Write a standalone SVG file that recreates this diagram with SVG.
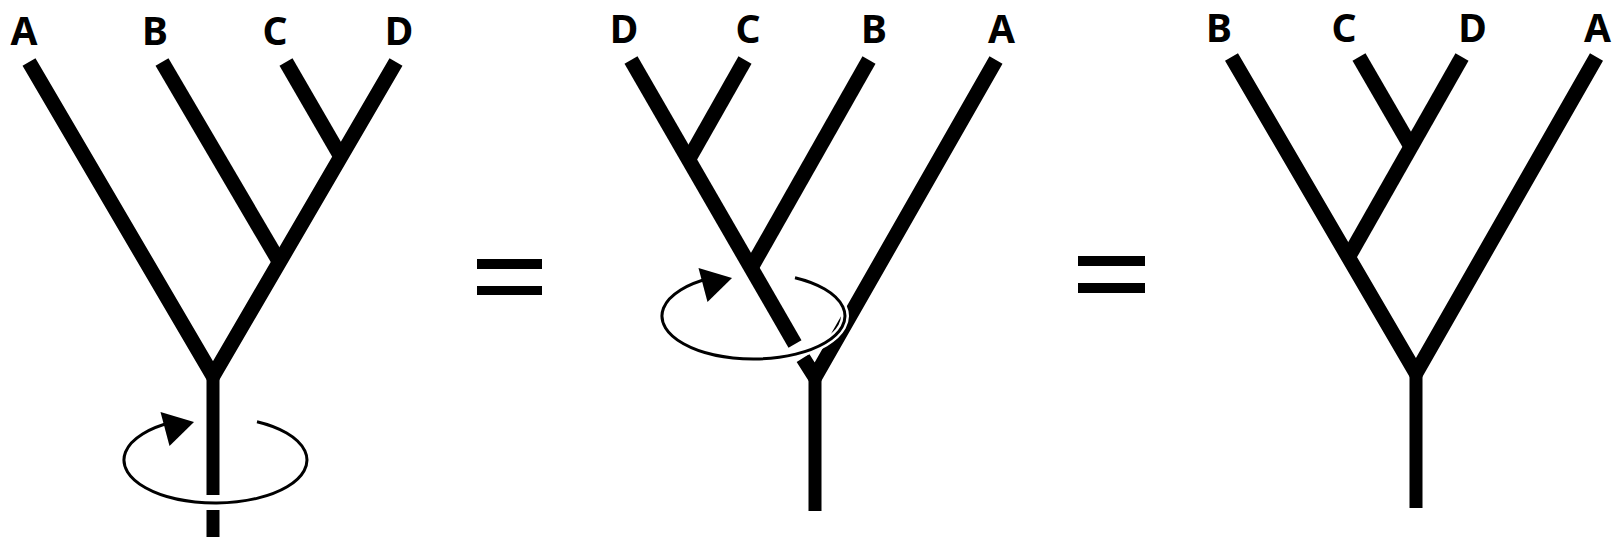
<svg xmlns="http://www.w3.org/2000/svg" xmlns:xlink="http://www.w3.org/1999/xlink" width="1619" height="540" viewBox="0 0 1619 540">
  <style>
    .br { fill: none; stroke: #000; stroke-width: 15; stroke-linecap: butt; stroke-linejoin: miter; stroke-miterlimit: 10; }
    .tk { fill: none; stroke: #000; stroke-width: 13; stroke-linecap: butt; }
    .lbl { font-family: "Noto Sans", "Liberation Sans", sans-serif; font-weight: 700; font-size: 39px; fill: #000; text-anchor: middle; }
    .eq { fill: #000; }
    .halo { fill: none; stroke: #fff; stroke-width: 8; }
    .ring { fill: none; stroke: #000; stroke-width: 3; }
  </style>
  <defs>
    <g id="spin">
      <path class="halo" d="M41.5,-38.3 A91.5,43 0 1 1 -44,-37.7"/>
      <path class="ring" d="M41.5,-38.3 A91.5,43 0 1 1 -44,-37.7"/>
      <polygon points="-55,-48 -21.5,-38 -46,-14" fill="#000"/>
    </g>
  </defs>
  <rect width="1619" height="540" fill="#fff"/>

  <g id="connectors">
    <!-- tree 1 -->
    <polyline class="br" points="29,62 213,376 396,62"/>
    <line class="br" x1="162" y1="62" x2="280" y2="263"/>
    <line class="br" x1="286" y1="62" x2="341" y2="157"/>
    <line class="tk" x1="213" y1="372" x2="213" y2="495"/>
    <line class="tk" x1="213" y1="510" x2="213" y2="537"/>
    <!-- tree 2 -->
    <line class="br" x1="631" y1="60" x2="795" y2="344"/>
    <polyline class="br" points="803,358 815,377 996,60"/>
    <line class="br" x1="745" y1="60" x2="688.5" y2="159.6"/>
    <line class="br" x1="869" y1="60" x2="751" y2="268"/>
    <line class="tk" x1="815" y1="373" x2="815" y2="511"/>
    <!-- tree 3 -->
    <polyline class="br" points="1231.5,57 1416,373 1596.5,57"/>
    <line class="br" x1="1359" y1="57" x2="1411" y2="146.7"/>
    <line class="br" x1="1462" y1="57" x2="1348" y2="257.8"/>
    <line class="tk" x1="1416" y1="369" x2="1416" y2="508"/>
  </g>

  <g id="rotation1"><use xlink:href="#spin" href="#spin" x="215.5" y="460"/></g>
  <g id="rotation2"><use xlink:href="#spin" href="#spin" x="753.5" y="316"/></g>

  <g id="equals1">
    <rect class="eq" x="477" y="259" width="65" height="10"/>
    <rect class="eq" x="477" y="286" width="65" height="9"/>
  </g>
  <g id="equals2">
    <rect class="eq" x="1078" y="256" width="67" height="10"/>
    <rect class="eq" x="1078" y="283" width="67" height="10"/>
  </g>

  <g id="t1-A"><text class="lbl" x="24" y="45">A</text></g>
  <g id="t1-B"><text class="lbl" x="155" y="45">B</text></g>
  <g id="t1-C"><text class="lbl" x="275" y="45">C</text></g>
  <g id="t1-D"><text class="lbl" x="399" y="45">D</text></g>

  <g id="t2-D"><text class="lbl" x="624" y="42.5">D</text></g>
  <g id="t2-C"><text class="lbl" x="748" y="42.5">C</text></g>
  <g id="t2-B"><text class="lbl" x="874" y="42.5">B</text></g>
  <g id="t2-A"><text class="lbl" x="1001.5" y="42.5">A</text></g>

  <g id="t3-B"><text class="lbl" x="1219" y="42">B</text></g>
  <g id="t3-C"><text class="lbl" x="1344" y="42">C</text></g>
  <g id="t3-D"><text class="lbl" x="1472.5" y="42">D</text></g>
  <g id="t3-A"><text class="lbl" x="1597.5" y="42">A</text></g>
</svg>
